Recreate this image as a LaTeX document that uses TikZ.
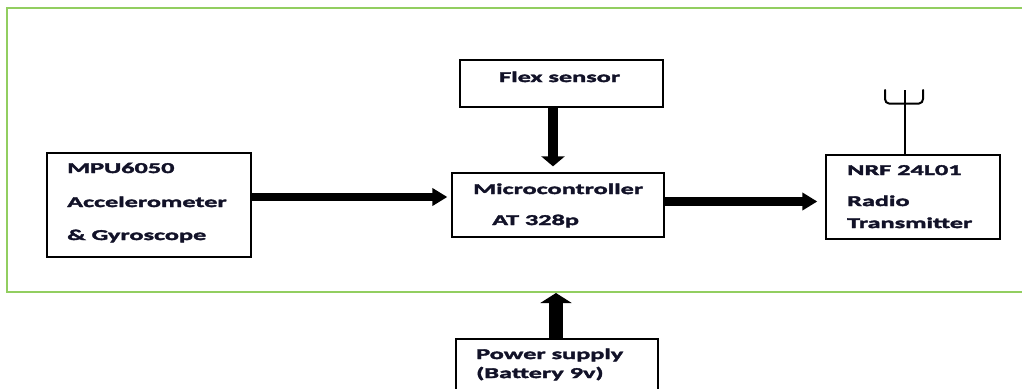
\documentclass[tikz,border=0pt]{standalone}
\usepackage{fontspec}
\setmainfont{Carlito}[FakeStretch=1.75]
\newfontfamily\labelfont{Carlito}[FakeStretch=1.75, FakeBold=2.5, BoldFont={* Bold}, BoldFeatures={FakeStretch=1.75, FakeBold=2.5}]
\usetikzlibrary{arrows.meta}
\definecolor{frame}{RGB}{146,206,96}
\definecolor{ink}{RGB}{18,18,40}
\tikzset{
  box/.style={draw=black, line width=1.3pt, inner sep=0pt, fill=white},
  lbl/.style={anchor=base west, inner sep=0pt, text=ink, font=\labelfont\fontsize{15}{18}\selectfont\bfseries},
}
\begin{document}
\begin{tikzpicture}[x=1pt,y=-1pt]
\useasboundingbox (0,0) rectangle (1022,388);
\clip (0,0) rectangle (1022,388);
% outer frame
\draw[frame, line width=1.5pt] (7,8) rectangle (1040,292);
% boxes
\node[box, minimum width=203pt, minimum height=47pt] (flex) at (561.5,83.5) {};
\node[box, minimum width=212pt, minimum height=64pt] (mc) at (558,205) {};
\node[box, minimum width=204pt, minimum height=104pt] (mpu) at (149,205) {};
\node[box, minimum width=174pt, minimum height=84pt] (nrf) at (913,197) {};
\node[box, minimum width=202pt, minimum height=70pt] (pwr) at (557,374) {};
% texts
\node[lbl] (t1) at (499,82) {Flex sensor};
\node[lbl] (t2) at (473,194) {Microcontroller};
\node[lbl] (t3) at (492,225) {AT 328p};
\node[lbl] (t4) at (67,173) {MPU6050};
\node[lbl] (t5) at (67,207) {Accelerometer};
\node[lbl] (t6) at (67,240) {\& Gyroscope};
\node[lbl] (t7) at (847,175) {NRF 24L01};
\node[lbl] (t8) at (847,206) {Radio};
\node[lbl] (t9) at (847,228) {Transmitter};
\node[lbl] (t10) at (476,359) {Power supply};
\node[lbl] (t11) at (476,378) {(Battery 9v)};
% antenna
\coordinate (anttop) at (905,90);
\draw[line width=2pt] (nrf.north -| anttop) -- (anttop);
\draw[line width=2pt, line cap=round] (885,90) -- (885,99) to[out=-90,in=180] (889,103.5) -- (919,103.5) to[out=0,in=-90] (923,99) -- (923,90);
% arrows
\draw[line width=8pt, -{Triangle[width=17pt,length=15pt]}, shorten >=4pt] (mpu.east |- 0,197) -- (mc.west |- 0,197);
\draw[line width=9pt, -{Triangle[width=17pt,length=15pt]}, shorten >=8pt] (mc.east |- 0,201.5) -- (nrf.west |- 0,201.5);
\draw[line width=10pt, -{Triangle[width=23pt,length=10pt]}, shorten >=6pt] (flex.south -| 553,0) -- (mc.north -| 553,0);
\coordinate (pwrtip) at (556,293);
\draw[line width=14pt, -{Triangle[width=31pt,length=10pt]}] (pwr.north -| pwrtip) -- (pwrtip);
\end{tikzpicture}
\end{document}
